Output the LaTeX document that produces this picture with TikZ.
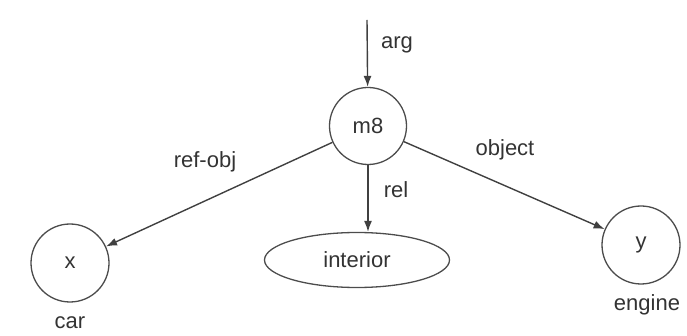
\documentclass[tikz,border=0pt]{standalone}
\usepackage{fontspec}
\setmainfont{Liberation Sans}
\usepackage{tikz}
\usetikzlibrary{arrows.meta,shapes.geometric}

\begin{document}
\begin{tikzpicture}[>={Latex[length=11pt,width=8pt]},x=10pt,y=-10pt,
   every node/.style={font=\fontsize{22}{26}\selectfont,text=black!80},
   concept/.style={draw=black!70,line width=1.3pt,circle,minimum size=77pt,inner sep=0pt},
   rel/.style={->,draw=black!75,line width=1.4pt}]
   \useasboundingbox (0,0) rectangle (68.7,33.6);

   \node[concept] (m8) at (36.8,12.6) {m8};
   \node[concept,minimum size=78pt] (x) at (7.0,26.3) {x};
   \node[concept,minimum size=78pt] (y) at (64.1,24.5) {y};
   \node[concept,ellipse,minimum width=185pt,minimum height=55pt] (interior) at (35.7,26.0) {interior};
   \coordinate (top) at (36.7,2.0);

   \node (car) at (7.0,32.3) {car};
   \node (engine) at (64.7,30.5) {engine};
   \node (arg) at (39.7,4.5) {arg};
   \node (rl) at (39.6,19.0) {rel};
   \node (refobj) at (20.5,16.2) {ref-obj};
   \node (obj) at (50.5,15.0) {object};

   \draw [rel] (top) -- (m8) ;
   \draw [rel] (m8) -- (x) ;
   \draw [rel] (m8.south) -- (m8.south |- interior.north) ;
   \draw [rel] (m8) -- (y) ;
\end{tikzpicture}
\end{document}
